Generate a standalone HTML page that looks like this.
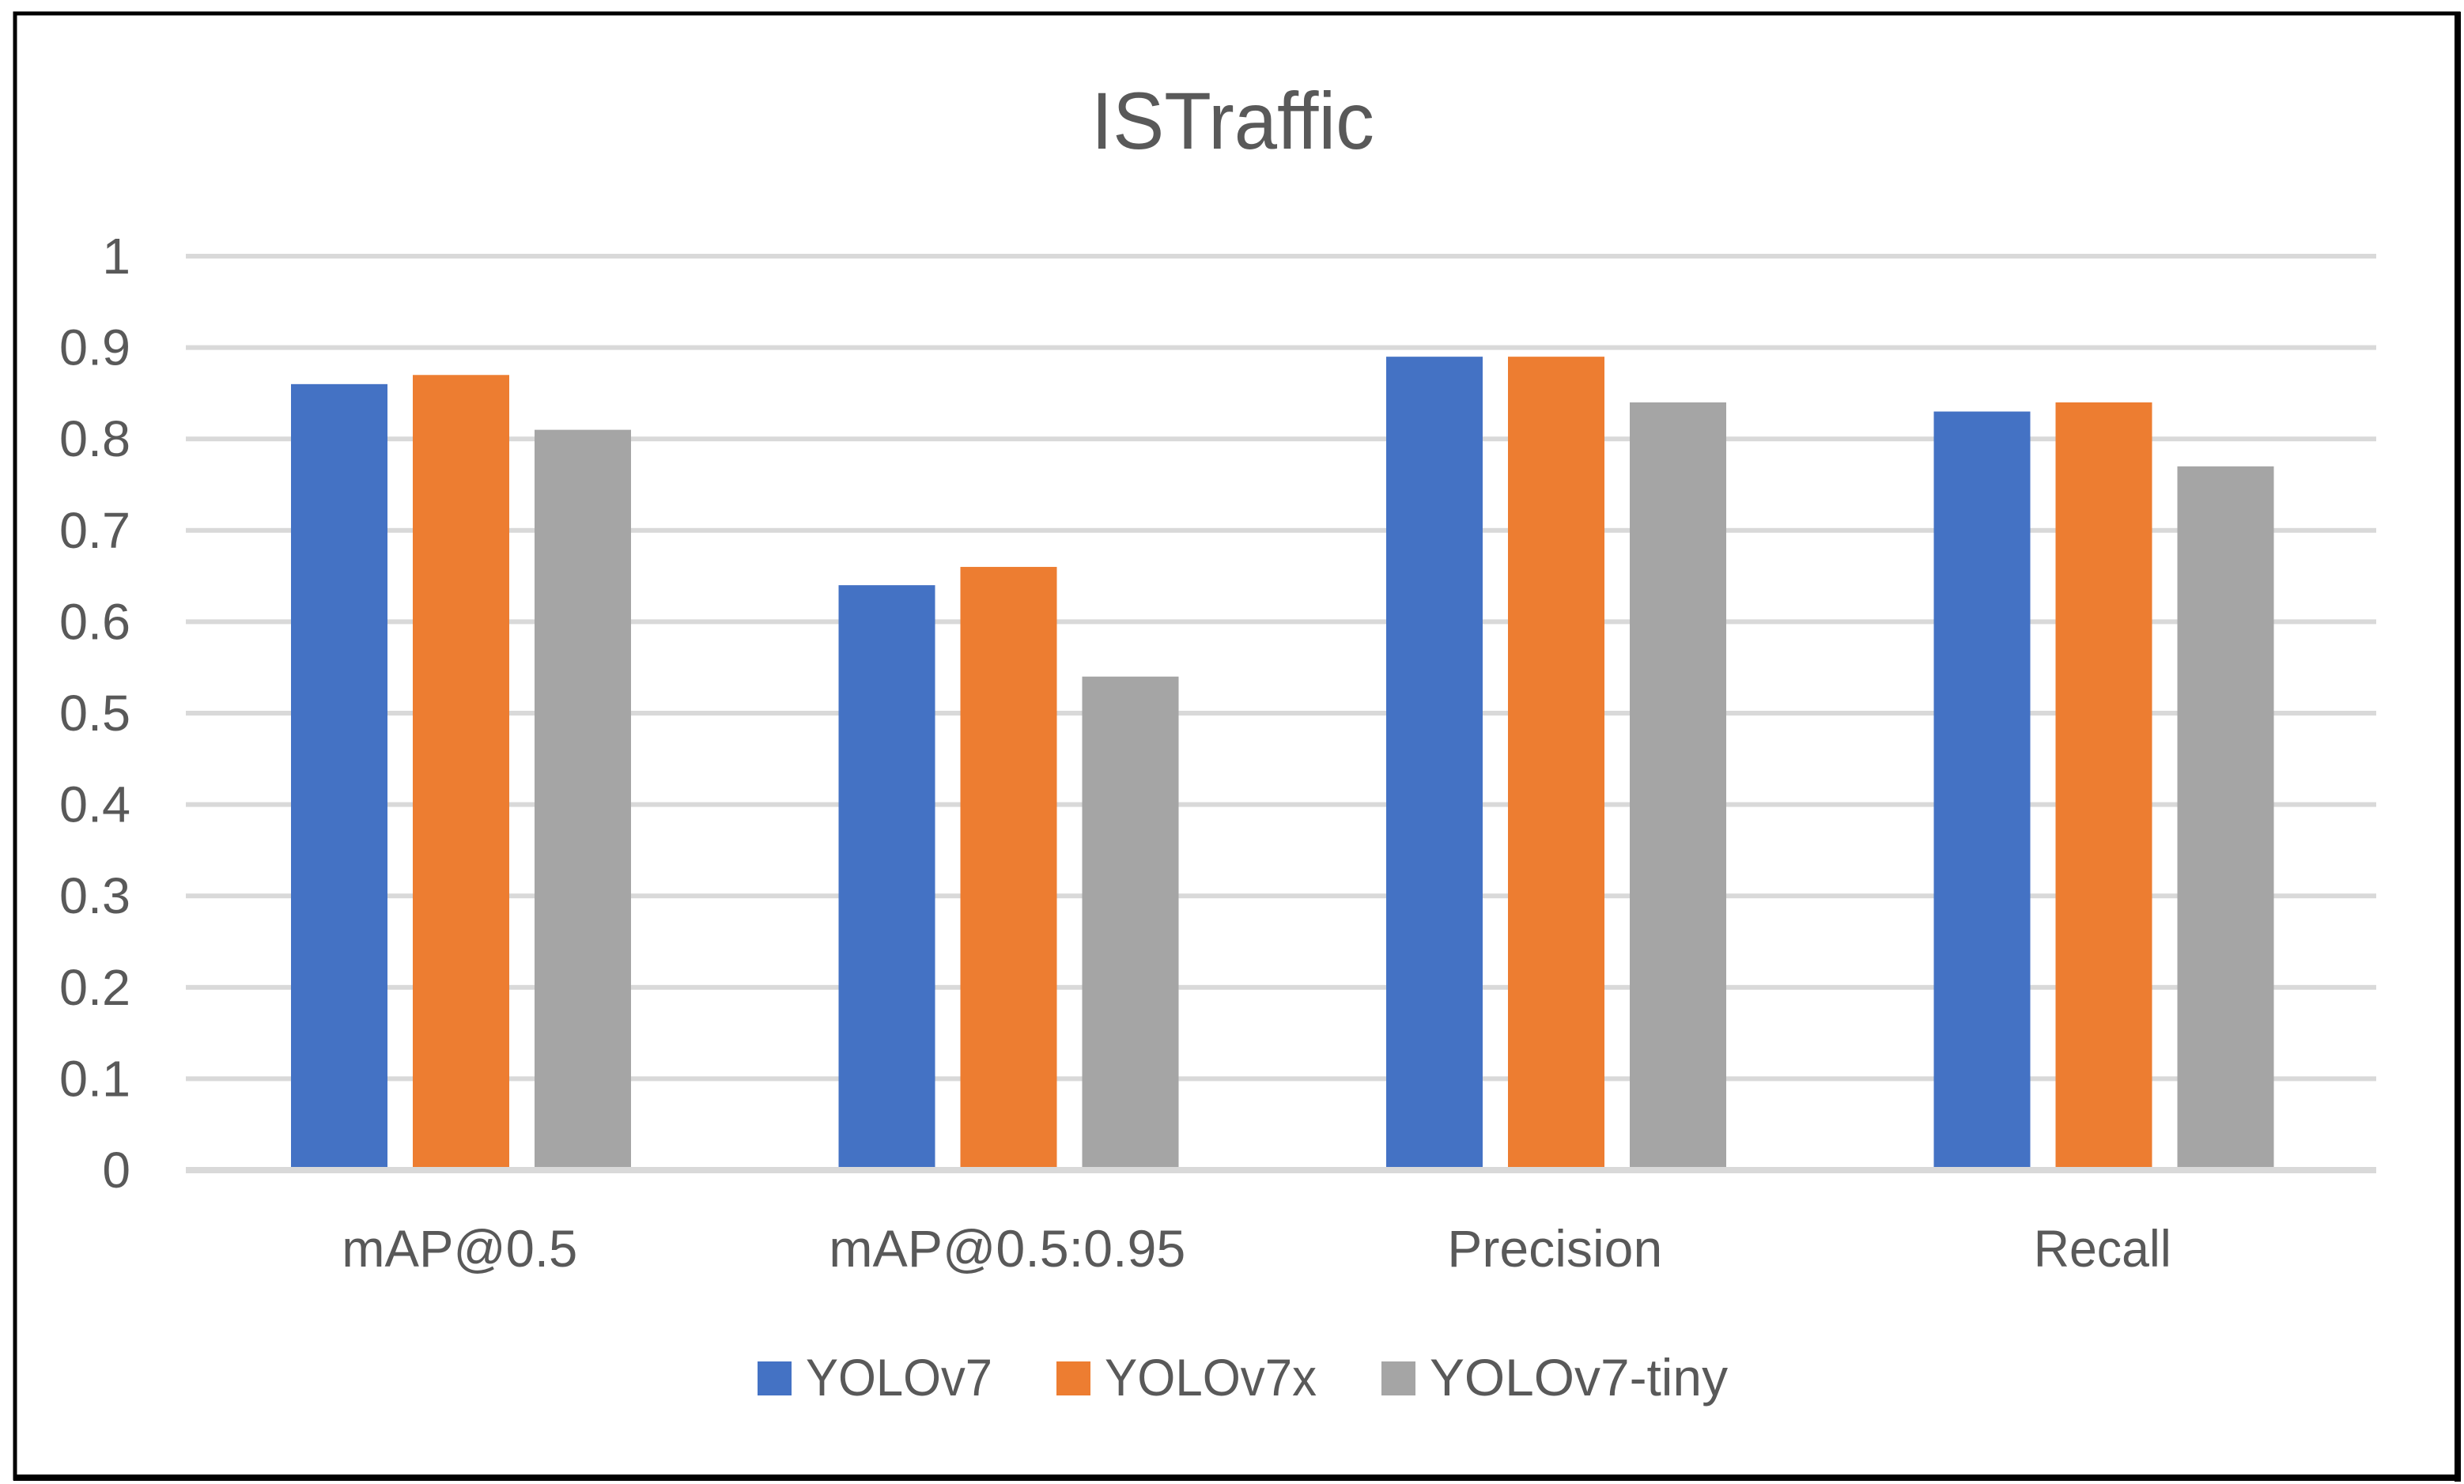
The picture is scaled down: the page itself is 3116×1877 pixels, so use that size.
<!DOCTYPE html>
<html><head><meta charset="utf-8"><style>
html,body{margin:0;padding:0;background:#fff;}
svg{display:block;}
text{font-family:"Liberation Sans",sans-serif;fill:#595959;}
</style></head><body>
<svg id="chart" width="3116" height="1877" viewBox="0 0 3116 1877" xmlns="http://www.w3.org/2000/svg">
<rect x="19" y="17" width="3090" height="1853" fill="#fff" stroke="#000" stroke-width="5"/>
<rect x="3104" y="15" width="8" height="1859" fill="#000"/>
<rect x="17" y="1865" width="3095" height="8" fill="#000"/>
<text x="1559" y="188" font-size="102" text-anchor="middle" textLength="358" lengthAdjust="spacingAndGlyphs">ISTraffic</text>
<g id="grid"></g>
<g id="yticks"></g>
<g id="bars"></g>
<g id="xlabels"></g>
<g id="legend"></g>
</svg>
<script>
const categories = ["mAP@0.5", "mAP@0.5:0.95", "Precision", "Recall"];
const seriesNames = ["YOLOv7", "YOLOv7x", "YOLOv7-tiny"];
const yolov7 = [0.86, 0.64, 0.89, 0.83];
const yolov7x = [0.87, 0.66, 0.89, 0.84];
const yolov7tiny = [0.81, 0.54, 0.84, 0.77];
const yTicks = ["0", "0.1", "0.2", "0.3", "0.4", "0.5", "0.6", "0.7", "0.8", "0.9", "1"];
const yTickValues = [0, 0.1, 0.2, 0.3, 0.4, 0.5, 0.6, 0.7, 0.8, 0.9, 1];

const NS = "http://www.w3.org/2000/svg";
const colors = ["#4472c4", "#ed7d31", "#a5a5a5"];
const series = [yolov7, yolov7x, yolov7tiny];
const plotL = 235, plotR = 3005, y0 = 1480, y1 = 324, yMax = 1;
const catW = (plotR - plotL) / categories.length;
const yScale = v => y0 - (v / yMax) * (y0 - y1);
const xCat = i => plotL + i * catW;
const barW = 122, barStep = 154, barOff = 133;
const labelW = [298, 451, 272, 174];

function mk(tag, attrs, parent) {
  const el = document.createElementNS(NS, tag);
  for (const k in attrs) el.setAttribute(k, attrs[k]);
  parent.appendChild(el);
  return el;
}
const grid = document.getElementById('grid');
const yt = document.getElementById('yticks');
yTickValues.forEach((v, i) => {
  const y = yScale(v);
  const l = mk('rect', {x: plotL, y: y - (v === 0 ? 4 : 3), width: plotR - plotL, height: v === 0 ? 8 : 6, fill: '#d9d9d9'}, grid);
  
  
  const t = mk('text', {x: 165, y: y + 22, 'font-size': 64, 'text-anchor': 'end'}, yt);
  if (yTicks[i].length > 1) { t.setAttribute('textLength', 90); t.setAttribute('lengthAdjust', 'spacingAndGlyphs'); }
  t.textContent = yTicks[i];
  
  
});
const bars = document.getElementById('bars');
categories.forEach((c, i) => {
  series.forEach((s, j) => {
    const y = yScale(s[i]);
    const r = mk('rect', {x: xCat(i) + barOff + j * barStep, y: y, width: barW, height: y0 - y, fill: colors[j]}, bars);
    
    
  });
  const t = mk('text', {x: xCat(i) + catW / 2, y: 1602, 'font-size': 66, 'text-anchor': 'middle', textLength: labelW[i], lengthAdjust: 'spacingAndGlyphs'}, document.getElementById('xlabels'));
  t.textContent = c;
  
  
});
const zl = mk('rect', {x: plotL, y: y0 - 4, width: plotR - plotL, height: 8, fill: '#d9d9d9'}, document.getElementById('chart'));



const lg = document.getElementById('legend');
const legX = [958, 1336, 1747];
const legTW = [236, 268, 377];
seriesNames.forEach((n, j) => {
  const g = mk('g', {}, lg);
  
  
  const sw = mk('rect', {x: legX[j], y: 1722, width: 43, height: 43, fill: colors[j]}, g);
  
  
  const t = mk('text', {x: legX[j] + 61, y: 1765, 'font-size': 66, textLength: legTW[j], lengthAdjust: 'spacingAndGlyphs'}, g);
  t.textContent = n;
  
  
});
</script>
</body></html>
